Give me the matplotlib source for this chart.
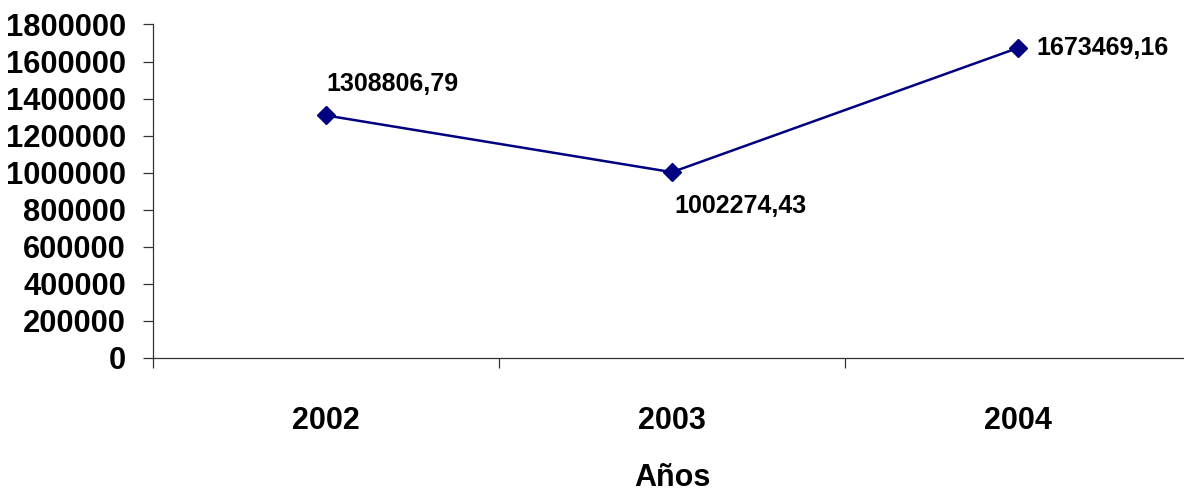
import matplotlib
matplotlib.use("Agg")
import matplotlib.pyplot as plt
from matplotlib.ticker import FixedLocator

years = ["2002", "2003", "2004"]
values = [1308806.79, 1002274.43, 1673469.16]
labels = ["1308806,79", "1002274,43", "1673469,16"]
yticks = [0, 200000, 400000, 600000, 800000, 1000000, 1200000, 1400000, 1600000, 1800000]

plt.rcParams['font.family'] = ['Liberation Sans', 'DejaVu Sans']
plt.rcParams['font.weight'] = 'bold'

fig = plt.figure(figsize=(11.84, 4.93), dpi=100)
ax = fig.add_axes([153/1184, 1 - 357.7/493, (1191 - 153)/1184, (357.7 - 24.5)/493])

x = list(range(len(years)))
ax.plot(x, values, color="#000080", linewidth=1.8, marker="D", markersize=9,
        markerfacecolor="#000080", markeredgecolor="#000080")

offsets = [(0, 31, 'left', 'center'), (2, -34, 'left', 'center'), (18, 0, 'left', 'center')]
for xi, v, lab, (dx, dy, ha, va) in zip(x, values, labels, offsets):
    ax.annotate(lab, (xi, v), xytext=(dx * 0.72, dy * 0.72), textcoords='offset points',
                ha=ha, va=va, fontsize=18, fontweight='bold')

ax.set_xlim(-0.5, 2.5)
ax.set_ylim(0, 1800000)
ax.set_yticks(yticks)
ax.set_yticklabels([str(t) for t in yticks])
ax.set_xticks(x)
ax.set_xticklabels(years)
ax.xaxis.set_minor_locator(FixedLocator([-0.5, 0.5, 1.5, 2.5]))

for s in ['top', 'right']:
    ax.spines[s].set_visible(False)
for s in ['left', 'bottom']:
    ax.spines[s].set_color('#333333')
    ax.spines[s].set_linewidth(0.9)

ax.tick_params(axis='y', direction='out', length=7.5, width=0.9, color='#333333',
               pad=12, labelsize=22.2)
ax.tick_params(axis='x', which='major', length=0, pad=35, labelsize=22)
ax.tick_params(axis='x', which='minor', direction='out', length=7.5, width=0.9, color='#333333')
for t in ax.get_xticklabels() + ax.get_yticklabels():
    t.set_fontweight('bold')

ax.set_xlabel("Años", fontsize=22, fontweight='bold', labelpad=19)

fig.savefig("out.png", dpi=100)
